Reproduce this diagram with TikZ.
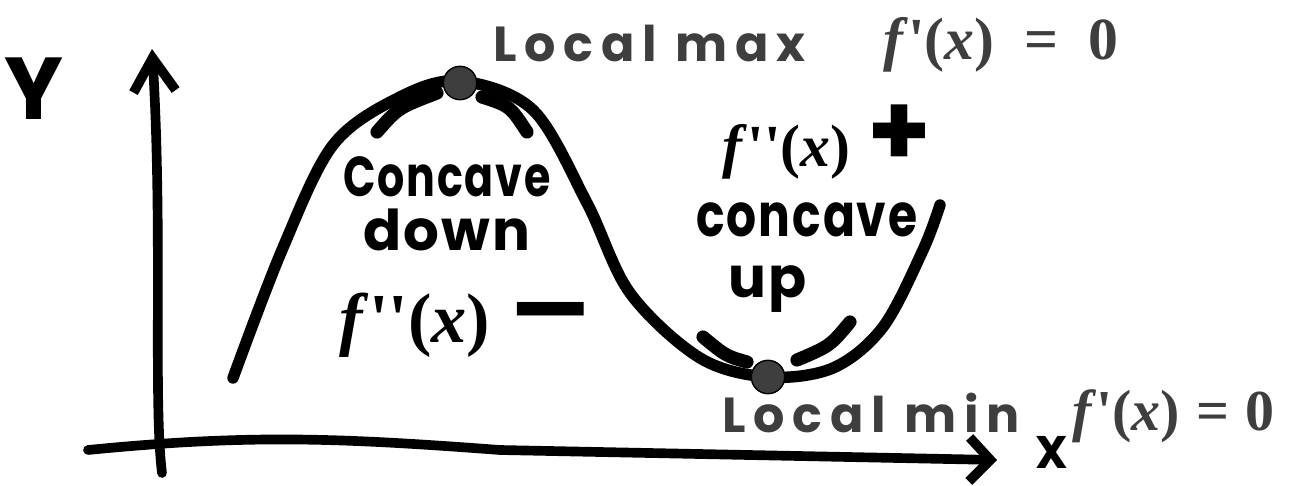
\documentclass[tikz,border=0pt]{standalone}
\usepackage{fontspec}
\usetikzlibrary{arrows.meta,positioning}
\newfontfamily\handfont{Poppins}[LetterSpace=4]
\newfontfamily\spacedhand{Poppins}[LetterSpace=16]
\newfontfamily\fxfont{Liberation Serif}[Ligatures=ResetAll]
\definecolor{stipple}{RGB}{62,62,62}
\newcommand\squeeze[2]{\scalebox{#1}[1]{#2}}
\newcommand\fexpr[1]{{\itshape f\/}#1({\itshape x\/})}
\newcommand\bigsign[2]{{\handfont\bfseries\fontsize{#1}{#1}\selectfont #2}}

\begin{document}
\begin{tikzpicture}[x=0.02cm, y=-0.02cm,
        curve/.style={line width=6.5pt, line cap=round, line join=round},
        axis/.style={line width=5.5pt, line cap=round, line join=round},
        tangent/.style={line width=7.5pt, line cap=round},
        critdot/.style={circle, fill=stipple, draw=black, thick,
                        inner sep=0pt, minimum size=19pt},
        hand/.style={inner sep=0pt, anchor=base, text=black},
        critlbl/.style={inner sep=0pt, anchor=base west, text=stipple}
    ]
    \useasboundingbox (0,0) rectangle (1289,486);

    %% ── Axes ────────────────────────────────────────────────────────────────
    \coordinate (ybot)   at (162,473);
    \coordinate (ytop)   at (152,49);
    \coordinate (xleft)  at (88,450);
    \coordinate (xbend)  at (500,450);
    \coordinate (xright) at (997,460);

    \draw[axis, -{Straight Barb[length=19pt,width=24pt]}]
        (ybot) .. controls (153,400) and (163,230) .. (ytop);
    \draw[axis, -{Straight Barb[length=12pt,width=25pt]}]
        (xleft) .. controls (250,434) and (340,438) .. (xbend) -- (xright);

    \node[hand, font=\handfont\bfseries\fontsize{26pt}{26pt}\selectfont]
        (ylbl) at (34,120) {\bigsign{50pt}{Y}};
    \node[hand, font=\handfont\bfseries\fontsize{26pt}{26pt}\selectfont]
        (xlbl) at (1052,468) {X};

    %% ── Curve ───────────────────────────────────────────────────────────────
    \draw[curve] plot[smooth, tension=0.55] coordinates {
        (233,378) (282,250) (333,145) (400,97) (460,81) (533,110)
        (587,203) (630,293) (700,358) (768,377) (833,368) (883,327)
        (923,250) (940,205)};

    %% critical points
    \node[critdot] (maxpt) at (460,83) {};
    \node[critdot] (minpt) at (768,377) {};

    %% tangent marks
    \draw[tangent] (377,132) .. controls (398,108) .. (437,93);
    \draw[tangent] (482,97)  .. controls (510,106) .. (527,132);
    \draw[tangent] (703,337) .. controls (726,356) .. (747,362);
    \draw[tangent] (797,360) .. controls (830,346) .. (850,322);

    %% ── Labels ──────────────────────────────────────────────────────────────
    \node[critlbl, font=\spacedhand\bfseries\fontsize{28pt}{28pt}\selectfont]
        (maxlbl) at (493,62) {Local max};
    \node[critlbl, font=\fxfont\bfseries\fontsize{34pt}{34pt}\selectfont]
        (maxeq) at (883,60) {\fexpr{'}\enspace=\enspace0};
    \node[critlbl, font=\spacedhand\bfseries\fontsize{28pt}{28pt}\selectfont]
        (minlbl) at (722,433) {Local min};
    \node[critlbl, font=\fxfont\bfseries\fontsize{33pt}{33pt}\selectfont]
        (mineq) at (1072,431) {\fexpr{'}\;=\;0};

    \node[hand, anchor=center, align=center,
          font=\handfont\bfseries\fontsize{32pt}{31pt}\selectfont]
        (cdown) at (447,204) {\squeeze{0.76}{Concave}\\down};
    \node[hand, font=\fxfont\bfseries\fontsize{40pt}{40pt}\selectfont]
        (fneg) at (466,343) {\fexpr{''}\;\squeeze{1.6}{\bigsign{54pt}{−}}};

    \node[hand, font=\fxfont\bfseries\fontsize{34pt}{34pt}\selectfont]
        (fpos) at (827,167) {\fexpr{''}\;\bigsign{58pt}{+}};
    \node[hand, font=\handfont\bfseries\fontsize{34pt}{34pt}\selectfont]
        (cup) at (807,237) {\squeeze{0.79}{concave}};
    \node[hand, font=\handfont\bfseries\fontsize{32pt}{32pt}\selectfont]
        (cupb) at (768,298) {up};

\end{tikzpicture}
\end{document}
